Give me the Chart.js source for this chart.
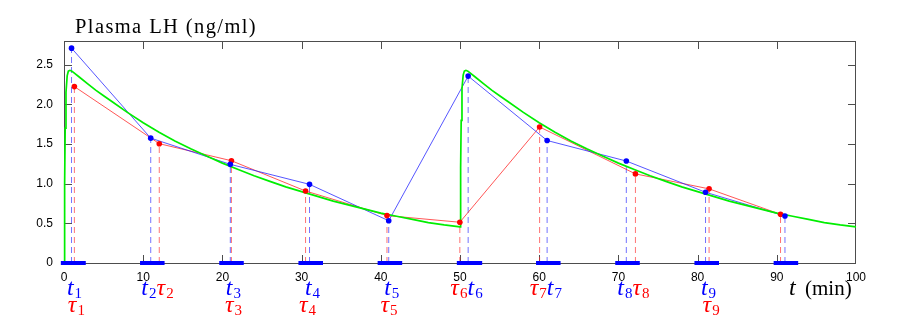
<!DOCTYPE html>
<html>
<head>
<meta charset="utf-8">
<script src="https://cdn.jsdelivr.net/npm/chart.js@4"></script>
<style>
  html, body { margin: 0; padding: 0; background: #fff; }
  canvas { display: block; }
</style>
</head>
<body>
<canvas id="chart" width="899" height="336"></canvas>
<script>
// sample times (min) and LH values (ng/ml)
const tT = [0.95, 10.95, 21.0, 31.0, 41.0, 51.03, 61.0, 71.0, 81.0, 91.03];
const tLH = [2.71, 1.575, 1.244, 0.992, 0.533, 2.357, 1.545, 1.286, 0.892, 0.593];
const tauT = [1.31, 12.03, 21.14, 30.5, 40.78, 49.98, 60.05, 72.15, 81.45, 90.47];
const tauLH = [2.225, 1.505, 1.29, 0.908, 0.598, 0.514, 1.716, 1.124, 0.935, 0.614];

// model curve (green)
const greenT = [0, 0.08, 0.15, 0.25, 0.4, 0.55, 0.75, 1, 2, 3, 4, 5, 6, 8, 10, 12, 14, 16, 18, 20,
  22, 24, 26, 28, 30, 32, 34, 36, 38, 40, 42, 44, 46, 48, 50,
  50.08, 50.15, 50.25, 50.4, 50.55, 50.75, 51, 52, 53, 54, 55, 56, 58, 60, 62, 64, 66, 68, 70,
  72, 74, 76, 78, 80, 82, 84, 86, 88, 90, 92, 94, 96, 98, 100];
const greenLH = [0, 1.0, 1.7, 2.15, 2.36, 2.42, 2.43, 2.42, 2.34, 2.26, 2.18, 2.11, 2.04, 1.90, 1.77, 1.65, 1.54, 1.44, 1.35, 1.26,
  1.18, 1.10, 1.03, 0.96, 0.90, 0.84, 0.78, 0.73, 0.68, 0.63, 0.59, 0.55, 0.51, 0.48, 0.455,
  1.2, 1.8, 2.2, 2.37, 2.42, 2.43, 2.42, 2.34, 2.26, 2.18, 2.11, 2.04, 1.90, 1.77, 1.65, 1.54, 1.44, 1.35, 1.26,
  1.18, 1.10, 1.03, 0.96, 0.90, 0.84, 0.78, 0.73, 0.68, 0.63, 0.59, 0.55, 0.51, 0.48, 0.455];

// sampling windows on the time axis
const barStart = [-0.4, 9.6, 19.6, 29.6, 39.6, 49.6, 59.6, 69.6, 79.6, 89.6];
const barEnd = [2.75, 12.7, 22.7, 32.7, 42.7, 52.8, 62.7, 72.7, 82.7, 92.7];

const subs = ["1", "2", "3", "4", "5", "6", "7", "8", "9"];
const xTicks = [0, 10, 20, 30, 40, 50, 60, 70, 80, 90, 100];
const yTicks = [0, 0.5, 1, 1.5, 2, 2.5];

const BLUE = "#0000ff";
const RED = "#ff0000";

const pts = (xs, ys) => xs.map((x, i) => ({ x: x, y: ys[i] }));

const datasets = [];

// sampling bars on the axis
for (let i = 0; i < barStart.length; i++) {
  datasets.push({
    data: [{ x: barStart[i], y: 0 }, { x: barEnd[i], y: 0 }],
    showLine: true, borderColor: BLUE, borderWidth: 4, borderCapStyle: "butt",
    pointRadius: 0, clip: false, order: 0,
  });
}

// markers
datasets.push({ data: pts(tT, tLH), showLine: false, pointRadius: 2.8, pointBackgroundColor: BLUE, pointBorderWidth: 0, order: 1 });
datasets.push({ data: pts(tauT, tauLH), showLine: false, pointRadius: 2.8, pointBackgroundColor: RED, pointBorderWidth: 0, order: 1 });

// model curve
datasets.push({ data: pts(greenT, greenLH), showLine: true, borderColor: "#00ee00", borderWidth: 1.7, pointRadius: 0, tension: 0, clip: false, order: 2 });

// connecting lines
datasets.push({ data: pts(tT, tLH), showLine: true, borderColor: "rgba(30,30,255,0.75)", borderWidth: 1, pointRadius: 0, order: 3 });
datasets.push({ data: pts(tauT, tauLH), showLine: true, borderColor: "rgba(255,30,30,0.75)", borderWidth: 1, pointRadius: 0, order: 3 });

// dashed drops to the axis
for (let i = 0; i < tT.length; i++) {
  datasets.push({
    data: [{ x: tT[i], y: 0 }, { x: tT[i], y: tLH[i] }],
    showLine: true, borderColor: "rgba(40,40,255,0.65)", borderWidth: 1, borderDash: [6, 4],
    pointRadius: 0, order: 4,
  });
  datasets.push({
    data: [{ x: tauT[i], y: 0 }, { x: tauT[i], y: tauLH[i] }],
    showLine: true, borderColor: "rgba(255,40,40,0.65)", borderWidth: 1, borderDash: [6, 4],
    pointRadius: 0, order: 4,
  });
}

const boxPlugin = {
  id: "box",
  beforeDatasetsDraw(chart) {
    const { ctx, chartArea: a, scales } = chart;
    ctx.save();
    ctx.strokeStyle = "#4d4d4d";
    ctx.lineWidth = 1;
    ctx.strokeRect(a.left + 0.5, a.top + 0.5, a.right - a.left - 1, a.bottom - a.top);
    ctx.beginPath();
    const len = 8;
    for (const v of xTicks) {
      if (v === 0 || v === 100) continue;
      const px = Math.round(scales.x.getPixelForValue(v)) + 0.5;
      ctx.moveTo(px, a.bottom); ctx.lineTo(px, a.bottom - len);
      ctx.moveTo(px, a.top); ctx.lineTo(px, a.top + len);
    }
    for (const v of yTicks) {
      if (v === 0) continue;
      const py = Math.round(scales.y.getPixelForValue(v)) + 0.5;
      ctx.moveTo(a.left, py); ctx.lineTo(a.left + len, py);
      ctx.moveTo(a.right, py); ctx.lineTo(a.right - len, py);
    }
    ctx.stroke();
    ctx.restore();
  },
};

const textPlugin = {
  id: "texts",
  afterDraw(chart) {
    const { ctx, scales } = chart;
    const main = "italic 24px 'Liberation Serif'";
    const sub = "15px 'Liberation Serif'";
    const base1 = 295, base2 = 312;

    function measure(sym, s) {
      ctx.font = main; const w1 = ctx.measureText(sym).width;
      ctx.font = sub; const w2 = ctx.measureText(s).width;
      return w1 + w2 + 1;
    }
    function put(sym, s, left, base, color) {
      ctx.fillStyle = color;
      ctx.font = main; ctx.fillText(sym, left, base);
      const w1 = ctx.measureText(sym).width;
      ctx.font = sub; ctx.fillText(s, left + w1 + 1, base + 3);
      return left + measure(sym, s);
    }

    ctx.save();
    ctx.textAlign = "left";
    ctx.textBaseline = "alphabetic";
    for (let i = 0; i < subs.length; i++) {
      const xt = scales.x.getPixelForValue(tT[i]);
      const xu = scales.x.getPixelForValue(tauT[i]);
      if (Math.abs(tT[i] - tauT[i]) > 0.9) {
        const first = tT[i] < tauT[i] ? ["t", BLUE] : ["\u03c4", RED];
        const second = tT[i] < tauT[i] ? ["\u03c4", RED] : ["t", BLUE];
        const w = measure(first[0], subs[i]) + measure(second[0], subs[i]);
        let left = (xt + xu) / 2 + 2.5 - w / 2;
        left = put(first[0], subs[i], left, base1, first[1]);
        put(second[0], subs[i], left, base1, second[1]);
      } else {
        put("t", subs[i], xt + 3 - measure("t", subs[i]) / 2, base1, BLUE);
        put("\u03c4", subs[i], xu + 2 - measure("\u03c4", subs[i]) / 2, base2, RED);
      }
    }

    // axis label
    ctx.fillStyle = "#000";
    ctx.font = main;
    ctx.fillText("t", 789, 295);
    ctx.font = "21px 'Liberation Serif'";
    ctx.fillText("(min)", 805, 295);

    // title
    ctx.font = "20.5px 'Liberation Serif'";
    ctx.letterSpacing = "1.4px";
    ctx.fillText("Plasma LH (ng/ml)", 75, 33);
    ctx.restore();
  },
};

new Chart(document.getElementById("chart").getContext("2d"), {
  type: "scatter",
  data: { datasets: datasets },
  plugins: [boxPlugin, textPlugin],
  options: {
    responsive: false,
    devicePixelRatio: 1,
    animation: false,
    layout: { padding: { left: 0, right: 43, top: 41, bottom: 0 } },
    plugins: { legend: { display: false }, tooltip: { enabled: false } },
    scales: {
      x: {
        type: "linear", min: 0, max: 100,
        afterBuildTicks: (s) => { s.ticks = xTicks.map((v) => ({ value: v })); },
        afterFit: (s) => { s.height = 73; },
        grid: { display: false },
        border: { display: false },
        ticks: { color: "#000", font: { family: "'Liberation Sans'", size: 12 }, padding: -1, maxRotation: 0 },
      },
      y: {
        type: "linear", min: 0, max: 2.8,
        afterBuildTicks: (s) => { s.ticks = yTicks.map((v) => ({ value: v })); },
        afterFit: (s) => { s.width = 64; },
        grid: { display: false },
        border: { display: false },
        ticks: { color: "#000", font: { family: "'Liberation Sans'", size: 12 }, padding: 3 },
      },
    },
  },
});
</script>
</body>
</html>
